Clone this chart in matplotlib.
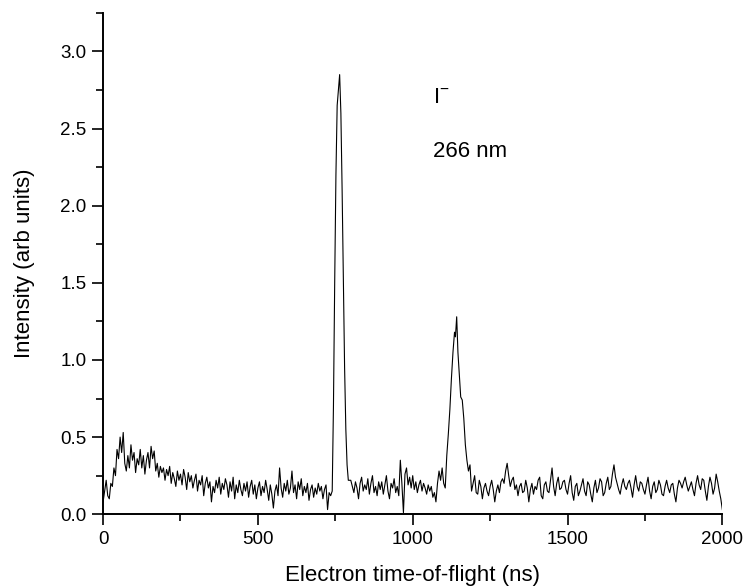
import matplotlib
matplotlib.use("Agg")
import matplotlib.pyplot as plt
from matplotlib.ticker import MultipleLocator

plt.rcParams['font.family'] = ['Liberation Sans', 'DejaVu Sans']

# time-of-flight grid (ns): 5 ns steps on the baseline, finer across peak 1
tof_ns = (list(range(0, 740, 5))
          + [740, 744, 748, 752, 756, 760, 764, 768, 772, 776, 780, 784, 788, 792]
          + list(range(800, 1110, 5))
          + [1110, 1115, 1120, 1125, 1130, 1135, 1138, 1142, 1146, 1150, 1155,
             1160, 1165, 1170, 1175, 1180, 1185, 1190]
          + list(range(1195, 2001, 5)))

baseline_a = [0.08, 0.15, 0.22, 0.12, 0.10, 0.20, 0.18, 0.30, 0.25, 0.42,
              0.36, 0.50, 0.40, 0.53, 0.33, 0.28, 0.38, 0.30, 0.45, 0.35,
              0.40, 0.27, 0.36, 0.32, 0.42, 0.30, 0.38, 0.26, 0.35, 0.40,
              0.30, 0.44, 0.36, 0.41, 0.28, 0.33, 0.24, 0.31, 0.27, 0.30,
              0.22, 0.29, 0.25, 0.31, 0.20, 0.27, 0.23, 0.18, 0.28, 0.22,
              0.26, 0.19, 0.29, 0.24, 0.16, 0.27, 0.21, 0.25, 0.17, 0.22,
              0.26, 0.15, 0.22, 0.19, 0.25, 0.12, 0.20, 0.24, 0.17, 0.21,
              0.08, 0.18, 0.14, 0.22, 0.17, 0.24, 0.13, 0.20, 0.16, 0.23,
              0.19, 0.11, 0.21, 0.15, 0.24, 0.10, 0.19, 0.14, 0.22, 0.16,
              0.12, 0.20, 0.15, 0.21, 0.11, 0.18, 0.22, 0.13, 0.19, 0.10,
              0.17, 0.21, 0.12, 0.18, 0.14, 0.22, 0.16, 0.09, 0.19, 0.13,
              0.04, 0.15, 0.19, 0.12, 0.30, 0.17, 0.11, 0.20, 0.15, 0.22,
              0.13, 0.17, 0.28, 0.14, 0.19, 0.10, 0.21, 0.16, 0.23, 0.12,
              0.18, 0.14, 0.20, 0.09, 0.16, 0.19, 0.11, 0.17, 0.13, 0.20,
              0.15, 0.18, 0.10, 0.16, 0.19, 0.03, 0.14, 0.12]
peak_1 = [0.15, 0.7, 1.5, 2.2, 2.65, 2.75, 2.85, 2.6, 2.1, 1.5, 0.95, 0.55, 0.32, 0.22]
baseline_b = [0.22, 0.18, 0.14, 0.21, 0.17, 0.10, 0.20, 0.24, 0.15, 0.19,
              0.16, 0.23, 0.13, 0.20, 0.25, 0.14, 0.18, 0.12, 0.21, 0.16,
              0.21, 0.13, 0.19, 0.25, 0.15, 0.10, 0.20, 0.17, 0.23, 0.14,
              0.18, 0.12, 0.35, 0.20, 0.01, 0.26, 0.30, 0.19, 0.24, 0.17,
              0.25, 0.16, 0.21, 0.14, 0.19, 0.22, 0.15, 0.20, 0.17, 0.13,
              0.19, 0.15, 0.18, 0.11, 0.14, 0.08, 0.20, 0.28, 0.22, 0.30,
              0.20, 0.17]
peak_2 = [0.38, 0.52, 0.68, 0.88, 1.05, 1.18, 1.15, 1.28, 1.05, 0.92, 0.76,
          0.74, 0.62, 0.45, 0.35, 0.28, 0.32, 0.15]
baseline_c = [0.20, 0.25, 0.14, 0.13, 0.22, 0.18, 0.10, 0.17, 0.20, 0.15,
              0.12, 0.18, 0.22, 0.16, 0.08, 0.15, 0.19, 0.14, 0.21, 0.23,
              0.20, 0.28, 0.33, 0.25, 0.18, 0.22, 0.24, 0.16, 0.19, 0.12,
              0.18, 0.20, 0.14, 0.15, 0.22, 0.17, 0.08, 0.16, 0.20, 0.13,
              0.18, 0.16, 0.22, 0.24, 0.12, 0.10, 0.19, 0.21, 0.15, 0.14,
              0.22, 0.30, 0.18, 0.12, 0.20, 0.24, 0.16, 0.17, 0.21, 0.22,
              0.16, 0.13, 0.20, 0.25, 0.14, 0.09, 0.18, 0.20, 0.12, 0.15,
              0.19, 0.23, 0.15, 0.12, 0.21, 0.19, 0.13, 0.08, 0.17, 0.22,
              0.14, 0.17, 0.23, 0.21, 0.12, 0.14, 0.20, 0.24, 0.16, 0.18,
              0.26, 0.32, 0.24, 0.20, 0.16, 0.13, 0.19, 0.23, 0.18, 0.16,
              0.20, 0.22, 0.17, 0.11, 0.19, 0.25, 0.18, 0.15, 0.21, 0.20,
              0.16, 0.13, 0.19, 0.24, 0.15, 0.10, 0.18, 0.21, 0.14, 0.16,
              0.22, 0.19, 0.13, 0.12, 0.18, 0.22, 0.17, 0.14, 0.19, 0.20,
              0.13, 0.08, 0.17, 0.22, 0.20, 0.17, 0.21, 0.24, 0.19, 0.15,
              0.18, 0.21, 0.16, 0.12, 0.20, 0.25, 0.19, 0.16, 0.23, 0.22,
              0.15, 0.09, 0.18, 0.24, 0.20, 0.13, 0.17, 0.26, 0.21, 0.15,
              0.10, 0.03]
intensity = baseline_a + peak_1 + baseline_b + peak_2 + baseline_c
assert len(tof_ns) == len(intensity)

fig = plt.figure(figsize=(7.47, 5.87), dpi=100)
ax = fig.add_axes([0.138, 0.124, 0.829, 0.854])

ax.plot(tof_ns, intensity, color='black', lw=0.8)

ax.set_xlim(0, 2000)
ax.set_ylim(0, 3.25)
ax.xaxis.set_major_locator(MultipleLocator(500))
ax.xaxis.set_minor_locator(MultipleLocator(250))
ax.yaxis.set_major_locator(MultipleLocator(0.5))
ax.yaxis.set_minor_locator(MultipleLocator(0.25))
ax.yaxis.set_major_formatter(plt.FormatStrFormatter('%.1f'))

for side in ['top', 'right']:
    ax.spines[side].set_visible(False)
for side in ['left', 'bottom']:
    ax.spines[side].set_linewidth(1.4)

ax.tick_params(which='major', direction='out', length=8, width=1.2,
               labelsize=13.5, pad=4)
ax.tick_params(which='minor', direction='out', length=5, width=1.2)

ax.set_xlabel('Electron time-of-flight (ns)', fontsize=16, labelpad=12)
ax.set_ylabel('Intensity (arb units)', fontsize=16, labelpad=18)

ax.text(1066, 2.70, r'I$^{\mathregular{-}}$', fontsize=16, va='center')
ax.text(1066, 2.35, '266 nm', fontsize=16, va='center')

fig.savefig('out.png', dpi=100)
